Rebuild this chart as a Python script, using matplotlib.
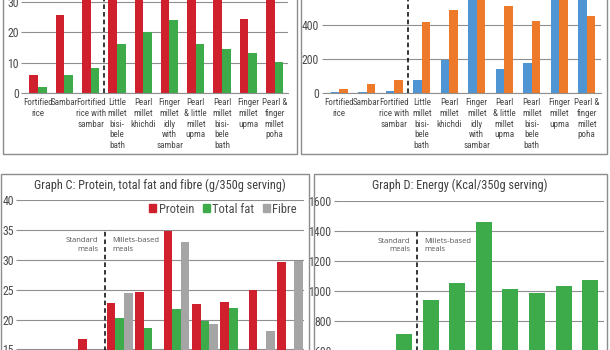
import matplotlib
matplotlib.use("Agg")
import matplotlib.pyplot as plt
from matplotlib.patches import Rectangle, Patch
import numpy as np

plt.rcParams['font.family'] = ['Roboto Condensed', 'Liberation Sans', 'DejaVu Sans']

W, H = 610, 350

meals = ["Fortified\nrice", "Sambar", "Fortified\nrice with\nsambar",
         "Little\nmillet\nbisi-\nbele\nbath", "Pearl\nmillet\nkhichdi",
         "Finger\nmillet\nidly\nwith\nsambar", "Pearl\n& little\nmillet\nupma",
         "Pearl\nmillet\nbisi-\nbele\nbath", "Finger\nmillet\nupma",
         "Pearl &\nfinger\nmillet\npoha"]

# graph A (top left) - red / green
a_red = [6.0, 25.7, 32, 45, 50, 58, 47, 44, 24.4, 52]
a_green = [2.2, 6.0, 8.3, 16.3, 20.1, 24.0, 16.3, 14.5, 13.3, 10.4]

# graph B (top right) - blue / orange
b_blue = [6, 5, 12, 80, 195, 700, 143, 180, 620, 640]
b_orange = [28, 53, 81, 418, 492, 760, 516, 427, 600, 453]

# graph C - protein, total fat, fibre
protein = [7.8, 9.0, 16.8, 22.7, 24.6, 34.9, 22.6, 22.9, 25.0, 29.6]
total_fat = [1.2, 6.8, 8.0, 20.3, 18.6, 21.8, 19.7, 22.0, 11.5, 9.8]
fibre = [2.4, 8.0, 10.4, 24.4, 13.5, 33.0, 19.3, 14.2, 18.0, 29.8]

# graph D - energy
energy = [450, 260, 711, 940, 1053, 1460, 1013, 987, 1033, 1073]

RED = '#d0202e'
GREEN = '#3dab4a'
BLUE = '#4f95d4'
ORANGE = '#ec7a2a'
GREY = '#a5a5a5'
TXT = '#4a4a4a'
GRID = '#8f8f8f'

fig = plt.figure(figsize=(W / 100, H / 100), dpi=100)


def px_axes(x0, x1, ytop, ybot):
    return fig.add_axes([x0 / W, 1 - ybot / H, (x1 - x0) / W, (ybot - ytop) / H])


def frame(x0, x1, ytop, ybot):
    fig.patches.append(Rectangle((x0 / W, 1 - ybot / H), (x1 - x0) / W, (ybot - ytop) / H,
                                 transform=fig.transFigure, fill=False,
                                 edgecolor='#8c8c8c', lw=1.0))


def style(ax, yticks, show_x=True):
    ax.set_xlim(-0.5, len(meals) - 0.5)
    ax.set_yticks(yticks)
    ax.yaxis.grid(True, color=GRID, lw=0.8)
    ax.set_axisbelow(True)
    for s in ['top', 'right', 'left']:
        ax.spines[s].set_visible(False)
    ax.spines['bottom'].set_color(GRID)
    ax.tick_params(axis='y', length=3, width=0.8, color=GRID, pad=1.5,
                   labelsize=8.5, labelcolor=TXT)
    ax.set_xticks(range(len(meals)))
    if show_x:
        ax.set_xticklabels(meals, fontsize=6.5, color=TXT, linespacing=1.25)
    else:
        ax.set_xticklabels([])
    ax.tick_params(axis='x', length=0, pad=3.5)


x = np.arange(len(meals))

# frames
frame(2.7, 297, -20, 154.3)
frame(300.7, 607.3, -20, 153.5)
frame(1, 309.3, 174, 400)
frame(314.3, 607, 173.5, 400)

# top left
axA = px_axes(24.9, 287.8, -28.7, 93.3)
w = 0.33
axA.bar(x - w / 2, a_red, w, color=RED)
axA.bar(x + w / 2, a_green, w, color=GREEN)
axA.set_ylim(0, 40)
style(axA, [0, 10, 20, 30, 40])
axA.axvline(2.5, color='black', lw=1.1, ls=(0, (3, 2)))

# top right
axB = px_axes(325.5, 600.5, -42.7, 93.3)
w = 0.31
axB.bar(x - w / 2, b_blue, w, color=BLUE)
axB.bar(x + w / 2, b_orange, w, color=ORANGE)
axB.set_ylim(0, 800)
style(axB, [0, 200, 400, 600, 800])
axB.axvline(2.5, color='black', lw=1.1, ls=(0, (3, 2)))

# graph C
axC = px_axes(20.3, 304.3, 200.3, 438.8)
w = 0.305
axC.bar(x - w, protein, w, color=RED, label='Protein')
axC.bar(x, total_fat, w, color=GREEN, label='Total fat')
axC.bar(x + w, fibre, w, color=GREY, label='Fibre')
axC.set_ylim(0, 40)
style(axC, np.arange(0, 41, 5), show_x=False)
axC.plot([2.5, 2.5], [0, 35], color='black', lw=1.1, ls=(0, (3, 2)))
fig.text(160 / W, 1 - 185 / H, "Graph C: Protein, total fat and fibre (g/350g serving)",
         ha='center', va='center', fontsize=8.8, color='#3f3f3f')
axC.legend(handles=[Patch(color=RED, label='Protein'), Patch(color=GREEN, label='Total fat'),
                    Patch(color=GREY, label='Fibre')],
           loc='center right', bbox_to_anchor=(303 / W, 1 - 209 / H), bbox_transform=fig.transFigure,
           ncol=3, frameon=False, fontsize=9.0, handlelength=0.55, handleheight=0.55,
           handletextpad=0.2, columnspacing=0.7, borderpad=0, labelcolor=TXT)

# graph D
axD = px_axes(337.5, 603.5, 201, 441)
axD.bar(x, energy, 0.6, color=GREEN)
axD.set_ylim(0, 1600)
style(axD, np.arange(0, 1601, 200), show_x=False)
axD.plot([2.5, 2.5], [0, 1400], color='black', lw=1.1, ls=(0, (3, 2)))
fig.text(460 / W, 1 - 185 / H, "Graph D: Energy (Kcal/350g serving)",
         ha='center', va='center', fontsize=8.8, color='#3f3f3f')

for ax, ytop in [(axC, 35), (axD, 1400)]:
    ax.annotate("Standard\nmeals", (2.5, ytop), xytext=(-5, -5), textcoords='offset points',
                ha='right', va='top', fontsize=5.5, family='Open Sans', color='#555555',
                linespacing=1.3)
    ax.annotate("Millets-based\nmeals", (2.5, ytop), xytext=(5, -5), textcoords='offset points',
                ha='left', va='top', fontsize=5.5, family='Open Sans', color='#555555',
                linespacing=1.3)

fig.savefig("out.png", dpi=100)
